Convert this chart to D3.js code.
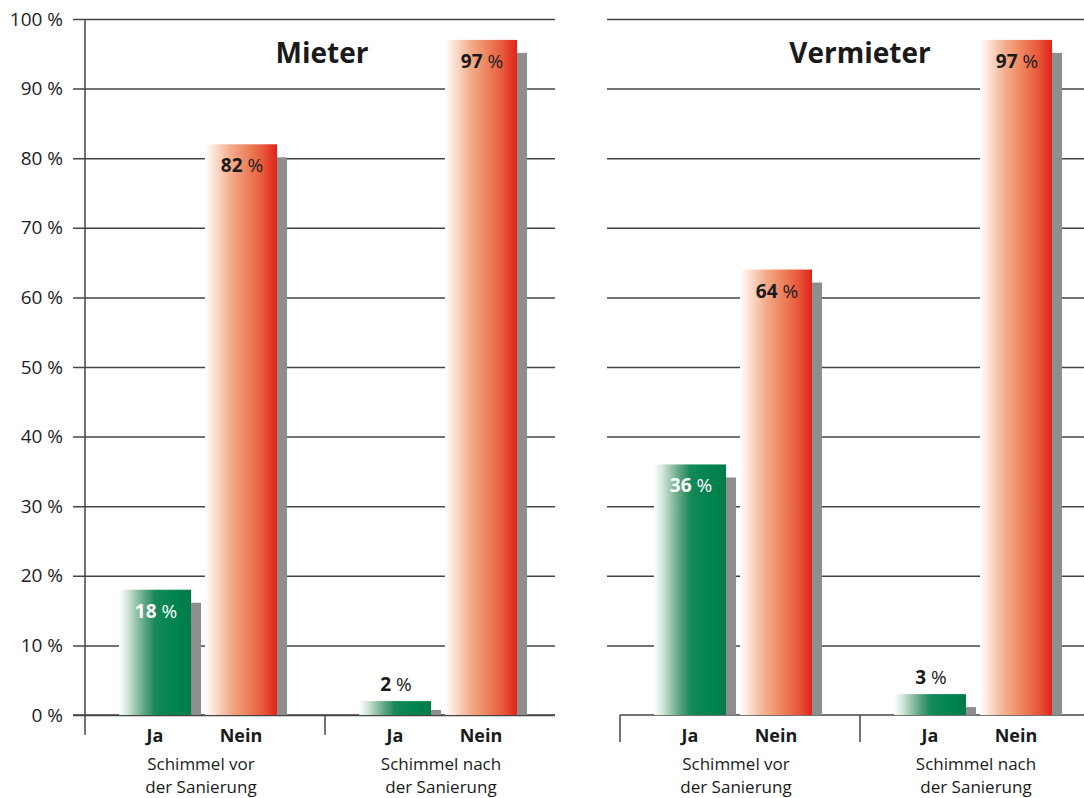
<!DOCTYPE html>
<html>
<head>
<meta charset="utf-8">
<script src="https://cdn.jsdelivr.net/npm/d3@7/dist/d3.min.js"></script>
<style>
  html, body { margin: 0; padding: 0; background: #fff; }
  svg { display: block; font-family: "Open Sans", "Noto Sans", sans-serif; }
</style>
</head>
<body>
<svg id="chart" width="1084" height="798"></svg>
<script>
// ---- data ----
const panelTitles = ["Mieter", "Vermieter"];
const groupKeys = ["vor", "nach"];
const groupLabels = [["Schimmel vor", "der Sanierung"], ["Schimmel nach", "der Sanierung"]];
const answers = ["Ja", "Nein"];
const mieterJa = [18, 2];
const mieterNein = [82, 97];
const vermieterJa = [36, 3];
const vermieterNein = [64, 97];
const yTicks = [0, 10, 20, 30, 40, 50, 60, 70, 80, 90, 100];

const panelData = [
  { title: panelTitles[0], ja: mieterJa, nein: mieterNein },
  { title: panelTitles[1], ja: vermieterJa, nein: vermieterNein }
];

// ---- layout ----
const svg = d3.select("#chart");
const y = d3.scaleLinear().domain([0, 100]).range([715, 19]);

const panelsLayout = [
  { bandStart: 85, gridStart: 73, gridEnd: 555, baseStart: 73, axisLine: true, labels: true, titleX: 322 },
  { bandStart: 620, gridStart: 607, gridEnd: 1084, baseStart: 620, axisLine: false, labels: false, titleX: 860 }
];

const defs = svg.append("defs");
const gGreen = defs.append("linearGradient").attr("id", "gradGreen").attr("x1", "0%").attr("x2", "100%").attr("y1", "0%").attr("y2", "0%");
[[0, "#ffffff"], [0.12, "#d2e6d9"], [0.3, "#78b392"], [0.5, "#17895a"], [0.75, "#008450"], [1, "#007c4a"]]
  .forEach(([o, c]) => gGreen.append("stop").attr("offset", o).attr("stop-color", c));
const gRed = defs.append("linearGradient").attr("id", "gradRed").attr("x1", "0%").attr("x2", "100%").attr("y1", "0%").attr("y2", "0%");
[[0, "#ffffff"], [0.15, "#fbdccd"], [0.35, "#f4ad8c"], [0.55, "#ee8a64"], [0.8, "#e85a3c"], [1, "#e2211a"]]
  .forEach(([o, c]) => gRed.append("stop").attr("offset", o).attr("stop-color", c));

const fmtPct = d => d + " %";

panelData.forEach((p, pi) => {
  const L = panelsLayout[pi];
  const g = svg.append("g");

  // gridlines via axis
  const axis = d3.axisLeft(y)
    .tickValues(yTicks.filter(t => L.labels || t > 0))
    .tickSize(-(L.gridEnd - L.gridStart))
    .tickPadding(10)
    .tickFormat(L.labels ? fmtPct : () => "");
  const ag = g.append("g").attr("transform", `translate(${L.gridStart},0)`).call(axis);
  ag.select(".domain").remove();
  ag.selectAll(".tick line").attr("stroke", "#444").attr("stroke-width", 1.5);
  ag.selectAll(".tick text").attr("fill", "#222").attr("font-size", 19).attr("font-family", "'Open Sans', sans-serif");

  // baseline
  g.append("line").attr("x1", L.baseStart).attr("x2", L.gridEnd).attr("y1", y(0)).attr("y2", y(0))
    .attr("stroke", "#444").attr("stroke-width", 1.5);

  // group band scale
  const xGroup = d3.scaleBand().domain(groupKeys).range([L.bandStart, L.bandStart + 480]).padding(0);
  const xInner = d3.scaleBand().domain(answers).range([34, 192]).paddingInner(14 / 86).paddingOuter(0);

  // vertical axis line
  if (L.axisLine) {
    g.append("line").attr("x1", L.bandStart).attr("x2", L.bandStart).attr("y1", y(100)).attr("y2", 735)
      .attr("stroke", "#444").attr("stroke-width", 1.5);
  } else {
    g.append("line").attr("x1", L.bandStart).attr("x2", L.bandStart).attr("y1", y(0)).attr("y2", 742)
      .attr("stroke", "#444").attr("stroke-width", 1.5);
  }
  // separator tick between groups
  g.append("line").attr("x1", xGroup("nach")).attr("x2", xGroup("nach")).attr("y1", y(0)).attr("y2", L.axisLine ? 735 : 742)
    .attr("stroke", "#444").attr("stroke-width", 1.5);

  // bars
  const bars = [];
  groupKeys.forEach((gk, gi) => {
    bars.push({ group: gk, answer: "Ja", value: p.ja[gi] });
    bars.push({ group: gk, answer: "Nein", value: p.nein[gi] });
  });

  const bw = xInner.bandwidth();
  const bx = d => xGroup(d.group) + xInner(d.answer);

  // shadows
  g.selectAll(".shadow").data(bars).join("rect")
    .attr("x", d => bx(d) + 10)
    .attr("width", bw)
    .attr("y", d => Math.min(y(d.value) + 13, y(0) - 5))
    .attr("height", d => y(0) - Math.min(y(d.value) + 13, y(0) - 5))
    .attr("fill", "#8e8e8e");

  g.selectAll(".bar").data(bars).join("rect")
    .attr("x", bx)
    .attr("width", bw)
    .attr("y", d => y(d.value))
    .attr("height", d => y(0) - y(d.value))
    .attr("fill", d => d.answer === "Ja" ? "url(#gradGreen)" : "url(#gradRed)");

  // value labels
  const lbl = g.selectAll(".vl").data(bars).join("text")
    .attr("x", d => bx(d) + bw / 2 + 1)
    .attr("y", d => d.value < 10 ? y(d.value) - 10 : y(d.value) + 28)
    .attr("text-anchor", "middle")
    .attr("font-size", 19)
    .attr("fill", d => (d.answer === "Ja" && d.value >= 10) ? "#ffffff" : "#1a1a1a");
  lbl.append("tspan").attr("font-weight", 700).text(d => d.value);
  lbl.append("tspan").attr("font-weight", 400).text(" %");

  // answer labels
  g.selectAll(".al").data(bars).join("text")
    .attr("x", d => bx(d) + bw / 2)
    .attr("y", 742)
    .attr("text-anchor", "middle")
    .attr("font-size", 18)
    .attr("font-weight", 700)
    .attr("fill", "#1a1a1a")
    .text(d => d.answer);

  // group labels (two separate lines)
  groupKeys.forEach((gk, gi) => {
    groupLabels[gi].forEach((line, li) => {
      g.append("text")
        .attr("x", xGroup(gk) + 116)
        .attr("y", 770 + li * 23)
        .attr("text-anchor", "middle")
        .attr("font-size", 17)
        .attr("fill", "#1a1a1a")
        .text(line);
    });
  });

  // title
  g.append("text")
    .attr("x", L.titleX).attr("y", 63)
    .attr("text-anchor", "middle")
    .attr("font-size", 28)
    .attr("font-weight", 700)
    .attr("fill", "#1a1a1a")
    .text(p.title);
});
</script>
</body>
</html>
